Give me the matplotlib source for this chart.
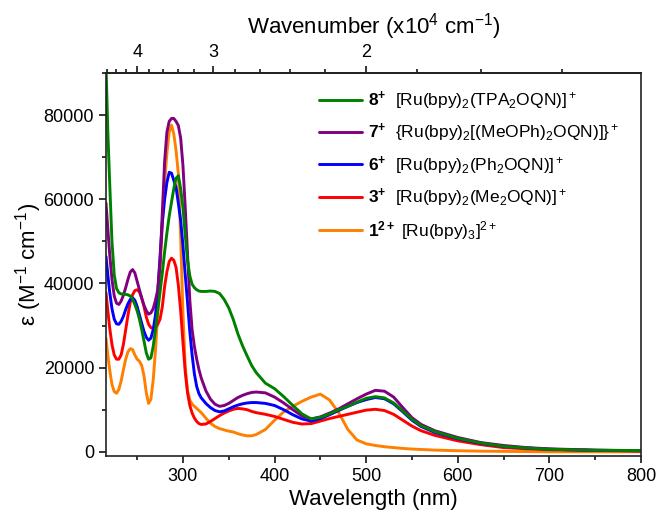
import numpy as np
import matplotlib
matplotlib.use("Agg")
import matplotlib.pyplot as plt
from matplotlib.ticker import MultipleLocator, FixedLocator, NullFormatter

plt.rcParams['font.family'] = ['Liberation Sans', 'DejaVu Sans']
plt.rcParams['mathtext.fontset'] = 'custom'
plt.rcParams['mathtext.rm'] = 'Liberation Sans'
plt.rcParams['mathtext.it'] = 'Liberation Sans:italic'
plt.rcParams['mathtext.bf'] = 'Liberation Sans:bold'
plt.rcParams['mathtext.default'] = 'regular'

wavelength = [216, 218, 220, 222.5, 225, 227.5, 230, 232.5, 235, 237.5, 240, 242.5, 245, 247.5,
              250, 252.5, 255, 257.5, 260, 262.5, 265, 267.5, 270, 272.5, 275, 277.5, 280, 282.5,
              285, 287.5, 290, 292.5, 295, 297.5, 300, 302.5, 305, 307.5, 310, 312.5, 315, 317.5,
              320, 325, 330, 335, 340, 345, 350, 355, 360, 365, 370, 375, 380, 390, 400, 410,
              420, 430, 440, 450, 460, 470, 480, 490, 500, 510, 520, 530, 540, 550, 560, 575,
              600, 625, 650, 675, 700, 750, 800]

# 1(2+) [Ru(bpy)3]2+
eps_1 = [27000, 23000, 19500, 16000, 14300, 13900, 14800, 16800, 19500, 22000, 23800, 24500,
         24300, 23000, 22000, 21500, 20500, 18000, 14000, 11500, 12500, 17000, 24000, 33000,
         43000, 54000, 64000, 71000, 76000, 77600, 75500, 71500, 66000, 51000, 33000, 20000,
         14500, 12300, 11300, 10800, 10300, 9800, 9300, 8000, 6800, 6000, 5500, 5200, 4900,
         4700, 4300, 4000, 3800, 3800, 4100, 5300, 7500, 9500, 10800, 12000, 13000, 13700,
         12300, 9300, 5300, 2800, 1900, 1500, 1200, 1000, 800, 650, 550, 400, 250, 150, 100,
         50, 0, 0, 0]

# 3+ [Ru(bpy)2(Me2OQN)]+
eps_3 = [37800, 33500, 29500, 25500, 23000, 22000, 22000, 23000, 25500, 29000, 32500, 35500,
         37300, 38300, 38500, 38000, 36500, 34500, 32000, 30300, 29500, 29300, 29500, 30300,
         31500, 34500, 39300, 42800, 45200, 46000, 45500, 43800, 39500, 33500, 26000, 19000,
         14000, 11000, 9200, 8000, 7200, 6700, 6500, 6600, 7200, 7900, 8600, 9200, 9700,
         10100, 10300, 10200, 10000, 9600, 9300, 8900, 8400, 7700, 7000, 6600, 6700, 7300,
         7900, 8400, 8900, 9400, 9900, 10100, 9800, 8900, 7500, 6100, 5000, 3900, 2600, 1700,
         1000, 700, 500, 300, 200]

# 6+ [Ru(bpy)2(Ph2OQN)]+
eps_6 = [46400, 42000, 38000, 34000, 31500, 30400, 30300, 31000, 32200, 33800, 35200, 36200,
         36600, 36000, 34500, 32500, 30500, 28600, 27200, 26500, 27000, 29000, 32500, 38000,
         46400, 54500, 60000, 64000, 66400, 66200, 64500, 62800, 59000, 55000, 49000, 42000,
         35500, 28500, 23000, 18500, 15500, 13800, 12800, 11500, 10500, 9800, 9500, 9700,
         10200, 10700, 11100, 11400, 11600, 11700, 11700, 11500, 11000, 10000, 8800, 7800,
         7300, 7900, 8800, 9800, 10800, 11700, 12400, 12900, 12600, 11400, 9500, 7500, 6000,
         4600, 3100, 2000, 1300, 900, 600, 350, 250]

# 7+ {Ru(bpy)2[(MeOPh)2OQN)]}+
eps_7 = [59100, 53000, 47000, 41000, 37000, 35300, 35000, 35800, 37200, 39000, 41000, 42700,
         43300, 42500, 40500, 38500, 36500, 34800, 33500, 32700, 33000, 34000, 36000, 38500,
         45000, 57000, 69000, 76000, 78500, 79200, 79200, 78500, 77500, 74500, 68000, 58000,
         47000, 36000, 29000, 25000, 22000, 19500, 17500, 14500, 12500, 11300, 10800, 11000,
         11500, 12200, 12900, 13400, 13800, 14100, 14200, 14000, 13000, 11600, 10000, 8500,
         7800, 8300, 9200, 10200, 11400, 12600, 13700, 14600, 14400, 13000, 10500, 8100, 6500,
         5000, 3400, 2200, 1500, 1000, 700, 400, 250]

# 8+ [Ru(bpy)2(TPA2OQN)]+
eps_8 = [92000, 76000, 64000, 50000, 42000, 38800, 37800, 37500, 37500, 37400, 37300, 37000,
         36300, 35000, 33500, 31500, 29000, 26300, 23500, 22000, 22300, 25000, 29000, 33500,
         38000, 42500, 47500, 52000, 56000, 59300, 62500, 65000, 65600, 62500, 58000, 51500,
         45500, 41800, 39800, 39000, 38500, 38200, 38100, 38100, 38200, 38100, 37600, 36200,
         34200, 31400, 28000, 25200, 22800, 20500, 18800, 16300, 15000, 13100, 11000, 9000,
         7800, 8200, 9000, 10000, 10800, 11800, 12700, 13100, 12800, 11600, 9700, 7700, 6200,
         4800, 3200, 2100, 1300, 900, 600, 350, 300]

labels = [
    r"$\mathbf{8^{+}}$  [Ru(bpy)$_2$(TPA$_2$OQN)]$^+$",
    r"$\mathbf{7^{+}}$  {Ru(bpy)$_2$[(MeOPh)$_2$OQN)]}$^+$",
    r"$\mathbf{6^{+}}$  [Ru(bpy)$_2$(Ph$_2$OQN)]$^+$",
    r"$\mathbf{3^{+}}$  [Ru(bpy)$_2$(Me$_2$OQN)]$^+$",
    r"$\mathbf{1^{2+}}$ [Ru(bpy)$_3$]$^{2+}$",
]
colors = ['#008000', '#800080', '#0000ff', '#ff0000', '#ff8000']
series = [eps_8, eps_7, eps_6, eps_3, eps_1]

fig = plt.figure(figsize=(6.57, 5.12), dpi=100)
ax = fig.add_axes([106/657, 1-456/512, (641-106)/657, (456-73)/512])

lines = {}
for s, c, lab in zip(series[::-1], colors[::-1], labels[::-1]):
    ln, = ax.plot(wavelength, s, color=c, lw=2.1, label=lab,
                  solid_joinstyle='round', solid_capstyle='round')
    lines[lab] = ln

ax.set_xlim(216, 800)
ax.set_ylim(-1000, 90000)
ax.xaxis.set_major_locator(FixedLocator([300, 400, 500, 600, 700, 800]))
ax.xaxis.set_minor_locator(FixedLocator([250, 350, 450, 550, 650, 750]))
ax.yaxis.set_major_locator(MultipleLocator(20000))
ax.yaxis.set_minor_locator(MultipleLocator(10000))
ax.tick_params(which='both', direction='out', labelsize=13, width=1.1, right=False, top=False)
ax.tick_params(which='major', length=5)
ax.tick_params(which='minor', length=3)
for sp in ax.spines.values():
    sp.set_linewidth(1.2)
    sp.set_color('#222222')

ax.set_xlabel('Wavelength (nm)', fontsize=16, labelpad=3)
ax.set_ylabel('ε (M$^{-1}$ cm$^{-1}$)', fontsize=16)
ax.yaxis.set_label_coords(-0.116, 0.5)


def to_wn(x):
    x = np.asarray(x, dtype=float)
    with np.errstate(divide='ignore', invalid='ignore'):
        return 1000.0 / x

sec = ax.secondary_xaxis('top', functions=(to_wn, to_wn))
sec.xaxis.set_major_locator(FixedLocator([2, 3, 4]))
minors = [v for v in np.round(np.arange(1.4, 4.61, 0.2), 1) if v not in (2.0, 3.0, 4.0)]
sec.xaxis.set_minor_locator(FixedLocator(minors))
sec.xaxis.set_minor_formatter(NullFormatter())
sec.tick_params(which='both', direction='out', labelsize=13, width=1.1)
sec.tick_params(which='major', length=5)
sec.tick_params(which='minor', length=3)
sec.spines['top'].set_linewidth(1.2)
sec.set_xlabel('Wavenumber (x10$^4$ cm$^{-1}$)', fontsize=16, labelpad=8)

handles = [lines[l] for l in labels]
leg = ax.legend(handles, labels, loc='upper left', bbox_to_anchor=(0.385, 0.975),
                frameon=False, fontsize=12.5, handlelength=2.5, handletextpad=0.3,
                labelspacing=0.58, borderaxespad=0)

fig.savefig('out.png', dpi=100)
